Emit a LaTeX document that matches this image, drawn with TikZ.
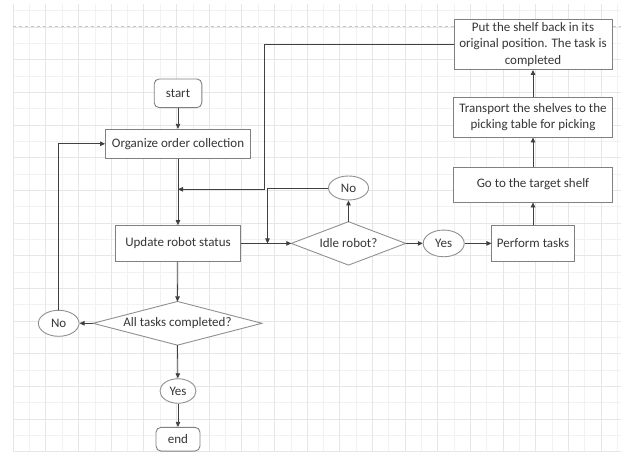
\documentclass[tikz,border=0pt]{standalone}
\usepackage{fontspec}
\setmainfont{Carlito}
\usetikzlibrary{shapes.geometric,arrows.meta}
\definecolor{linec}{HTML}{404040}
\definecolor{boxc}{HTML}{808080}
\definecolor{shpc}{HTML}{909090}
\definecolor{txtc}{HTML}{363636}
\definecolor{gridminor}{HTML}{F2F2F2}
\definecolor{gridmajor}{HTML}{E6E6E6}
\begin{document}
\begin{tikzpicture}[x=1pt,y=-1pt,
  font=\fontsize{13}{16.5}\selectfont,
  box/.style={draw=boxc, fill=white, line width=0.9pt, rectangle, inner sep=0pt, text=txtc, align=center},
  term/.style={box, rounded corners=5pt},
  oval/.style={draw=shpc, fill=white, line width=0.9pt, ellipse, inner sep=0pt, text=txtc},
  dia/.style={rectangle, inner sep=0pt, text=txtc},
  diashape/.style={draw=shpc, fill=white, line width=0.9pt},
  conn/.style={draw=linec, line width=0.8pt, -{Triangle[length=5pt,width=4.5pt]}},
  plain/.style={draw=linec, line width=0.8pt},
  gminor/.style={draw=gridminor, line width=0.8pt},
  gmajor/.style={draw=gridmajor, line width=1pt}]
\useasboundingbox[fill=white] (0,0) rectangle (621,455);
% grid
\foreach \i in {1,3,...,37} {\draw[gminor] ({13.3+16.33*\i},4) -- ({13.3+16.33*\i},451.7);}
\foreach \j in {1,3,...,27} {\draw[gminor] (13.3,{451.7-16.33*\j}) -- (621,{451.7-16.33*\j});}
\foreach \i in {0,2,...,36} {\draw[gmajor] ({13.3+16.33*\i},4) -- ({13.3+16.33*\i},451.7);}
\foreach \j in {0,2,...,26} {\draw[gmajor] (13.3,{451.7-16.33*\j}) -- (621,{451.7-16.33*\j});}
\draw[gray!45, dashed, line width=0.6pt] (13.3,26.7) -- (621,26.7);
% nodes
\node[term, minimum width=47.6pt, minimum height=28.7pt] (start) at (178,93.3) {start};
\node[box, minimum width=145pt, minimum height=29pt] (org) at (178,143.8) {Organize order collection};
\node[box, minimum width=125pt, minimum height=35.7pt] (upd) at (178,243.4) {Update robot status};
\node[dia, minimum width=168.4pt, minimum height=43.3pt] (all) at (177.5,323.3) {All tasks completed?};
\draw[diashape] (all.north) -- (all.east) -- (all.south) -- (all.west) -- cycle;
\node[text=txtc] at (all) {All tasks completed?};
\node[oval, minimum width=40.7pt, minimum height=26pt] (noL) at (58.7,323.3) {No};
\node[oval, minimum width=36pt, minimum height=24.5pt] (yesB) at (178,391) {Yes};
\node[term, minimum width=44pt, minimum height=23.7pt] (end) at (178,439.2) {end};
\node[dia, minimum width=114pt, minimum height=43pt] (idle) at (348.5,243.4) {Idle robot?};
\draw[diashape] (idle.north) -- (idle.east) -- (idle.south) -- (idle.west) -- cycle;
\node[text=txtc] at (idle) {Idle robot?};
\node[oval, minimum width=40pt, minimum height=24pt] (noT) at (348.5,188) {No};
\node[oval, minimum width=41pt, minimum height=26.7pt] (yesR) at (443.7,243.4) {Yes};
\node[box, minimum width=82.2pt, minimum height=35.7pt] (perf) at (533,243.4) {Perform tasks};
\node[box, minimum width=158.5pt, minimum height=35pt] (goto) at (533,184.5) {Go to the target shelf};
\node[box, minimum width=158.5pt, minimum height=40pt] (trans) at (533,117) {Transport the shelves to the\\picking table for picking};
\node[box, minimum width=158pt, minimum height=50pt] (back) at (533,44.5) {Put the shelf back in its\\original position. The task is\\completed};
% connectors
\coordinate (m1) at (264,189.3);
\coordinate (m2) at (267.5,188);
\draw[conn] (start) -- (org);
\draw[conn] (org) -- (upd);
\draw[conn] (back.west) -| (m1) -- (m1 -| org);
\draw[conn] (noT.west) -- (noT.west -| m2) -- (m2 |- upd);
\draw[conn] (upd.east) -- (idle.west);
\draw[conn] (idle.north) -- (noT.south);
\draw[conn] (idle.east) -- (yesR.west);
\draw[conn] (yesR.east) -- (perf.west);
\draw[conn] (perf) -- (goto);
\draw[conn] (goto) -- (trans);
\draw[conn] (trans) -- (back);
\draw[conn] (upd) -- (all.north);
\draw[conn] (all.west) -- (noL);
\draw[conn] (noL.north) |- (org.west);
\draw[conn] (all.south) -- (yesB);
\draw[conn] (yesB) -- (end);
\end{tikzpicture}
\end{document}
